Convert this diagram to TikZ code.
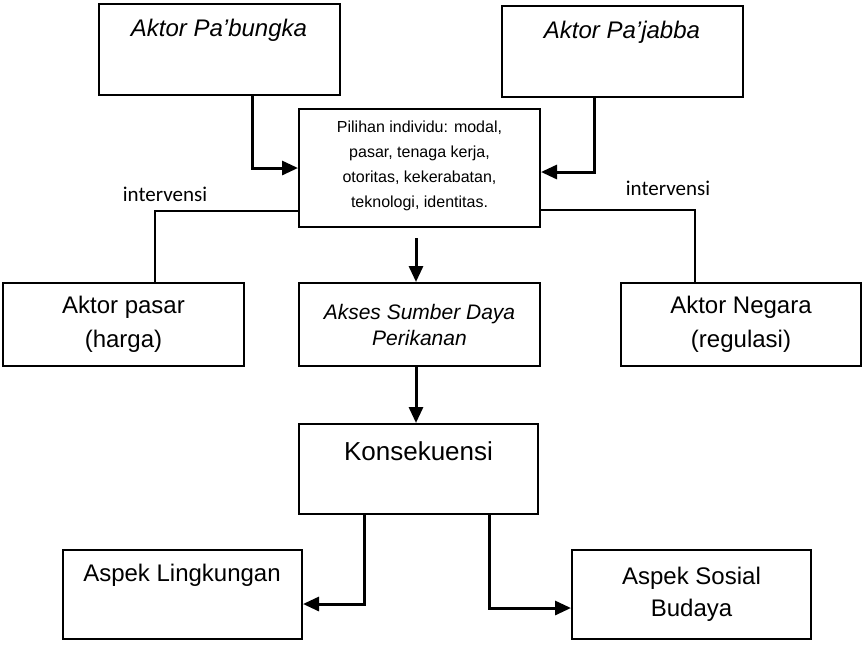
\documentclass[tikz,border=0pt]{standalone}
\usepackage{fontspec}
\setmainfont{Liberation Sans}
\newfontfamily\calibri{Carlito}
\usetikzlibrary{arrows.meta,calc}

\begin{document}
\begin{tikzpicture}[x=0.5pt, y=-0.5pt,
                    box/.style={draw, line width=1pt, minimum width=120.5pt, minimum height=41.5pt, align=center, font=\fontsize{12}{17}\selectfont},
                    txt/.style={inner sep=0pt, align=center, font=\fontsize{12}{16}\selectfont},
                    arr/.style={line width=1.5pt, -{Triangle[length=8pt,width=7pt]}},
                    link/.style={line width=1pt}]
                    \useasboundingbox (0,0) rectangle (863,645);

                    \node[box, minimum height=45.5pt] (bungka) at (219,49.5) {};
                    \node[box, minimum height=45.5pt] (jabba) at (622.5,51.5) {};
                    \node[box, minimum height=59pt] (pilihan) at (419.5,168) {};
                    \node[box] (pasar) at (123.5,324.5) {Aktor pasar\\(harga)};
                    \node[box, font=\fontsize{10.5}{13}\selectfont\itshape] (akses) at (419.5,324.5) {Akses Sumber Daya\\Perikanan};
                    \node[box, minimum width=120pt] (negara) at (741,324.5) {Aktor Negara\\(regulasi)};
                    \node[box, minimum width=119.5pt, minimum height=45pt] (konsek) at (418.5,469) {};
                    \node[box, minimum width=119.5pt, minimum height=44.5pt] (lingk) at (182.5,594.5) {};
                    \node[box, minimum width=119.5pt, minimum height=44.5pt, font=\fontsize{12}{16}\selectfont] (sosial) at (691.5,594.5) {Aspek Sosial\\Budaya};

                    \node[txt, font=\fontsize{12}{16}\selectfont\itshape] (bungkaT) at (219,30) {Aktor Pa’bungka};
                    \node[txt, font=\fontsize{12}{16}\selectfont\itshape] (jabbaT) at (622,32) {Aktor Pa’jabba};
                    \node[txt, font=\fontsize{8}{12.5}\selectfont] (pilihanT) at (419.5,166) {Pilihan individu: modal,\\pasar, tenaga kerja,\\otoritas, kekerabatan,\\teknologi, identitas.};
                    \node[txt, font=\fontsize{13}{16}\selectfont] (konsekT) at (418.5,451) {Konsekuensi};
                    \node[txt] (lingkT) at (182,575) {Aspek Lingkungan};
                    \node[txt, font=\fontsize{10.5}{13}\calibri] (intL) at (165,194) {intervensi};
                    \node[txt, font=\fontsize{10.5}{13}\calibri] (intR) at (668,188) {intervensi};

                    \draw[arr] ($(bungka.south)+(33,0)$) |- (pilihan.west);
                    \draw[arr] ($(jabba.south)+(-28.5,0)$) |- ($(pilihan.east)+(0,4)$);
                    \draw[link] ($(pilihan.west)+(0,43)$) -| ($(pasar.north)+(31.5,0)$);
                    \draw[link] ($(pilihan.east)+(0,42)$) -| ($(negara.north)+(-46,0)$);
                    \draw[arr, shorten <=5pt] ($(pilihan.south)+(-3.5,0)$) -- ($(akses.north)+(-3.5,0)$);
                    \draw[arr] ($(akses.south)+(-3.5,0)$) -- ($(konsek.north)+(-2.5,0)$);
                    \draw[arr] ($(konsek.south)+(-54.5,0)$) |- ($(lingk.east)+(0,9.5)$);
                    \draw[arr] ($(konsek.south)+(70.5,0)$) |- ($(sosial.west)+(0,13.5)$);
                \end{tikzpicture}
\end{document}
